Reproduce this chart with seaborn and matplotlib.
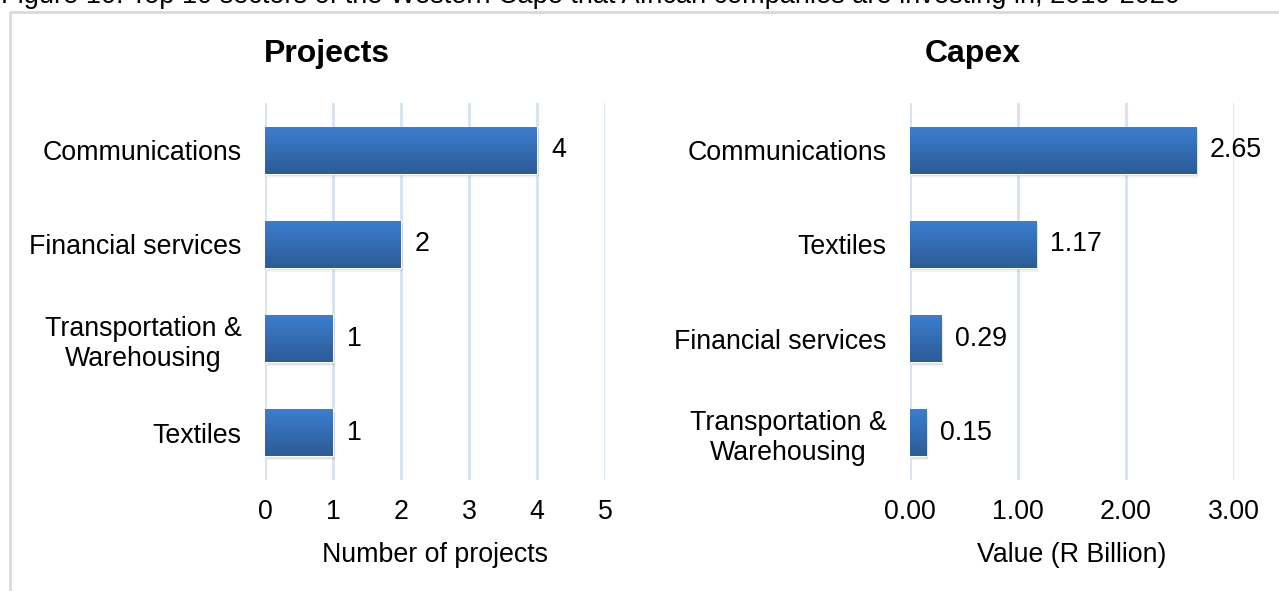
import numpy as np
import matplotlib
matplotlib.use("Agg")
import matplotlib.pyplot as plt
import matplotlib.transforms as mtransforms
from matplotlib.patches import Rectangle
import seaborn as sns

# data
proj_sectors = ['Communications', 'Financial services', 'Transportation &\nWarehousing', 'Textiles']
proj_counts = [4, 2, 1, 1]
capex_sectors = ['Communications', 'Textiles', 'Financial services', 'Transportation &\nWarehousing']
capex_values = [2.65, 1.17, 0.29, 0.15]
caption = 'Figure 10: Top 10 sectors of the Western Cape that African companies are investing in, 2019-2020'

sns.set_style('white')
plt.rcParams['font.family'] = ['Liberation Sans', 'DejaVu Sans']
plt.rcParams['text.color'] = 'black'
plt.rcParams['axes.labelcolor'] = 'black'
FS = 19.3

W, H = 1279, 591
fig = plt.figure(figsize=(W / 100, H / 100), dpi=100)

bar_top = '#3d7ecf'
bar_bot = '#2c5b98'
grid_col = '#d6e2f3'


def gradient_bars(ax):
    cmap = matplotlib.colors.LinearSegmentedColormap.from_list('g', [bar_top, bar_bot])
    grad = np.linspace(0, 1, 64).reshape(-1, 1)
    xl, yl = ax.get_xlim(), ax.get_ylim()
    for p in list(ax.patches):
        x0, y0 = p.get_x(), p.get_y()
        x1, y1 = x0 + p.get_width(), y0 + p.get_height()
        # soft shadow under each bar
        for k, a in ((2.5, 0.18), (4, 0.1)):
            sh = Rectangle((x0, y0), p.get_width(), p.get_height(), facecolor='#8a8a8a',
                           alpha=a, edgecolor='none', zorder=1.5,
                           transform=mtransforms.offset_copy(ax.transData, fig=fig, x=1.5, y=-k, units='dots'))
            ax.add_patch(sh)
        im = ax.imshow(grad, cmap=cmap, extent=(x0, x1, y1, y0), origin='upper',
                       aspect='auto', zorder=3, interpolation='bicubic')
        im.set_clip_path(p)
    ax.set_xlim(xl)
    ax.set_ylim(yl)


def style(ax, xmax, ticks, ticklabels, xlabel):
    ax.set_xlim(0, xmax)
    ax.set_ylim(3.5, -0.5)
    ax.set_xticks(ticks)
    ax.set_xticklabels(ticklabels)
    ax.xaxis.grid(True, color=grid_col, linewidth=2)
    ax.yaxis.grid(False)
    ax.set_axisbelow(True)
    for s in ax.spines.values():
        s.set_visible(False)
    ax.tick_params(axis='x', length=0, pad=14, labelsize=FS, colors='black')
    ax.tick_params(axis='y', length=0, pad=17, labelsize=FS, colors='black')
    for t in ax.get_yticklabels():
        t.set_multialignment('center')
    ax.set_xlabel(xlabel, fontsize=FS, labelpad=12)
    ax.set_ylabel('')


ax1 = fig.add_axes([265 / W, 1 - 480 / H, 340 / W, 377 / H])
sns.barplot(x=proj_counts, y=proj_sectors, orient='h', color=bar_top, width=0.5,
            ax=ax1, saturation=1, zorder=2)
style(ax1, 5, range(6), [str(i) for i in range(6)], 'Number of projects')
ax1.bar_label(ax1.containers[0], labels=[str(v) for v in proj_counts], padding=10, fontsize=FS)
gradient_bars(ax1)

ax2 = fig.add_axes([910 / W, 1 - 480 / H, 324 / W, 377 / H])
sns.barplot(x=capex_values, y=capex_sectors, orient='h', color=bar_top, width=0.5,
            ax=ax2, saturation=1, zorder=2)
style(ax2, 3, range(4), ['%.2f' % i for i in range(4)], 'Value (R Billion)')
ax2.bar_label(ax2.containers[0], labels=['%.2f' % v for v in capex_values], padding=10, fontsize=FS)
gradient_bars(ax2)

fig.text(327 / W, 1 - 54 / H, 'Projects', ha='center', va='center', fontsize=23, fontweight='bold')
fig.text(973 / W, 1 - 54 / H, 'Capex', ha='center', va='center', fontsize=23, fontweight='bold')

# caption cut off at top edge, plus light frame
fig.text(1 / W, 1 - 3 / H, caption, ha='left', va='baseline', fontsize=19.5)
fig.patches.append(Rectangle((10 / W, -0.1), 1.2, 1.1 - 12 / H, transform=fig.transFigure,
                             facecolor='none', edgecolor='#d9d9d9', linewidth=2))

fig.savefig('out.png', dpi=100)
